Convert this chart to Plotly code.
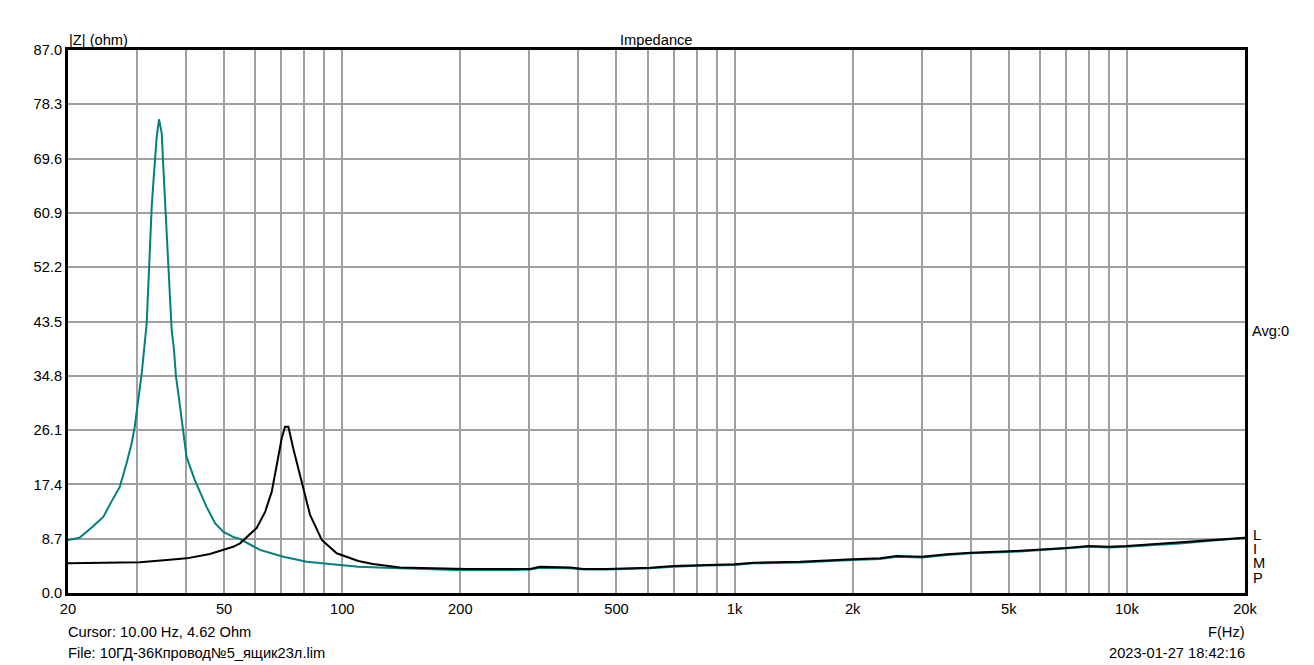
import plotly.graph_objects as go

# ---- data ----
teal_freq = [20, 21.4, 23.1, 24.6, 26.1, 27.1, 28.2, 29.06, 29.6, 30.22, 30.83, 31.74, 32.04, 32.36,
             32.69, 33.0, 33.33, 33.66, 34.12, 34.66, 34.99, 35.34, 35.69, 36.03, 36.39, 36.75,
             37.25, 37.69, 38.36, 39.3, 40.1, 42.1, 45.1, 47.4, 49.8, 52.7, 54.9, 61.7, 70.8,
             81.2, 98.7, 109.9, 134, 196, 272, 301, 319, 381, 412, 472, 609, 698,
             849, 1000, 1117, 1469, 2000, 2350, 2589, 3000, 3476, 4000, 5000, 6000, 7000, 8000,
             9000, 10000, 11690, 13660, 16600, 20000]
teal_z = [8.5, 8.86, 10.6, 12.2, 15.2, 17.0, 20.8, 24.0, 26.7, 31.2, 35.2, 43.2, 49.6, 56.6,
          61.9, 65.7, 69.4, 73.1, 75.9, 73.7, 68.3, 63.0, 56.6, 50.7, 47.0, 42.1,
          39.0, 34.7, 31.2, 26.1, 21.8, 18.1, 13.8, 11.2, 9.8, 9.0, 8.65, 6.9, 5.8,
          5.0, 4.5, 4.2, 4.0, 3.7, 3.7, 3.75, 4.05, 3.95, 3.75, 3.75, 3.95, 4.2,
          4.4, 4.5, 4.75, 4.9, 5.3, 5.45, 5.8, 5.7, 6.1, 6.35, 6.55, 6.85, 7.1, 7.4,
          7.3, 7.4, 7.7, 7.95, 8.4, 8.8]

black_freq = [20, 25.0, 30.5, 35.7, 40.1, 46.0, 52.7, 54.9, 60.5, 63.6, 66.1, 68.1, 70.1, 71.5,
              72.9, 75.0, 78.8, 82.8, 88.7, 96.8, 109.9, 119.8, 140.4, 207.5, 301, 319, 381, 412,
              472, 609, 698, 849, 1000, 1117, 1469, 2000, 2350, 2589, 3000, 3476, 4000, 5000,
              6000, 7000, 8000, 9000, 10000, 11690, 13660, 16600, 20000]
black_z = [4.76, 4.86, 4.92, 5.3, 5.55, 6.25, 7.4, 7.96, 10.4, 13.0, 16.2, 20.5, 24.8, 26.65,
           26.65, 23.2, 17.8, 12.5, 8.5, 6.36, 5.13, 4.65, 4.1, 3.85, 3.85, 4.2, 4.1, 3.85,
           3.85, 4.06, 4.33, 4.49, 4.6, 4.86, 5.02, 5.4, 5.56, 5.93, 5.82, 6.2, 6.46, 6.68,
           6.94, 7.2, 7.53, 7.42, 7.53, 7.8, 8.06, 8.5, 8.86]

x_tickvals = [20, 30, 40, 50, 60, 70, 80, 90, 100, 200, 300, 400, 500, 600, 700, 800, 900,
              1000, 2000, 3000, 4000, 5000, 6000, 7000, 8000, 9000, 10000, 20000]
x_ticktext = ["20", "", "", "50", "", "", "", "", "100", "200", "", "", "500", "", "", "", "",
              "1k", "2k", "", "", "5k", "", "", "", "", "10k", "20k"]
y_tickvals = [0.0, 8.7, 17.4, 26.1, 34.8, 43.5, 52.2, 60.9, 69.6, 78.3, 87.0]
y_ticktext = ["%.1f" % v for v in y_tickvals]

FONT = "Liberation Sans, Arial, sans-serif"
FS = 14.67

fig = go.Figure()
fig.add_trace(go.Scatter(x=teal_freq, y=teal_z, mode="lines",
                         line=dict(color="#008080", width=2), showlegend=False))
fig.add_trace(go.Scatter(x=black_freq, y=black_z, mode="lines",
                         line=dict(color="#000000", width=2), showlegend=False))

# page body has an 8px margin; figure is placed at (8, 8)
OFF = 8
W, H = 1314 - OFF, 665 - OFF
L, T = 68 - OFF, 50 - OFF
R = W - (1245 - OFF)
B = H - (593 - OFF)
PW, PH = W - L - R, H - T - B


def px(x):
    return (x - OFF - L) / PW


def py(y):
    return (H - B - (y - OFF)) / PH


fig.update_layout(
    width=W, height=H,
    margin=dict(l=L, r=R, t=T, b=B, pad=0),
    paper_bgcolor="white", plot_bgcolor="white",
    font=dict(family=FONT, size=FS, color="black"),
    xaxis=dict(type="log", range=[1.30103, 4.30103], tickvals=x_tickvals, ticktext=x_ticktext,
               showgrid=True, gridcolor="#a0a0a0", gridwidth=2, zeroline=False,
               showline=True, mirror=True, linecolor="black", linewidth=3,
               ticks="", tickfont=dict(family=FONT, size=FS, color="black")),
    yaxis=dict(range=[0, 87], tickvals=y_tickvals, ticktext=y_ticktext,
               showgrid=True, gridcolor="#a0a0a0", gridwidth=2, zeroline=False,
               showline=True, mirror=True, linecolor="black", linewidth=3,
               ticks="", tickfont=dict(family=FONT, size=FS, color="black")),
)

ann = [
    dict(text="|Z| (ohm)", x=px(68), y=py(40), xanchor="left", yanchor="middle"),
    dict(text="Impedance", x=px(656), y=py(40), xanchor="center", yanchor="middle"),
    dict(text="Avg:0", x=px(1251), y=py(331), xanchor="left", yanchor="middle"),
    dict(text="L", x=px(1252), y=py(535), xanchor="left", yanchor="middle"),
    dict(text="I", x=px(1252), y=py(549), xanchor="left", yanchor="middle"),
    dict(text="M", x=px(1252), y=py(563), xanchor="left", yanchor="middle"),
    dict(text="P", x=px(1252), y=py(578), xanchor="left", yanchor="middle"),
    dict(text="F(Hz)", x=px(1246), y=py(632), xanchor="right", yanchor="middle"),
    dict(text="Cursor: 10.00 Hz, 4.62 Ohm", x=px(67), y=py(632), xanchor="left", yanchor="middle"),
    dict(text="File: 10ГД-36Кпровод№5_ящик23л.lim", x=px(67), y=py(653), xanchor="left", yanchor="middle"),
    dict(text="2023-01-27 18:42:16", x=px(1246), y=py(653), xanchor="right", yanchor="middle"),
]
for a in ann:
    a.update(xref="paper", yref="paper", showarrow=False,
             font=dict(family=FONT, size=FS, color="black"), borderpad=0)
fig.update_layout(annotations=ann)

fig.write_html("out.html")
